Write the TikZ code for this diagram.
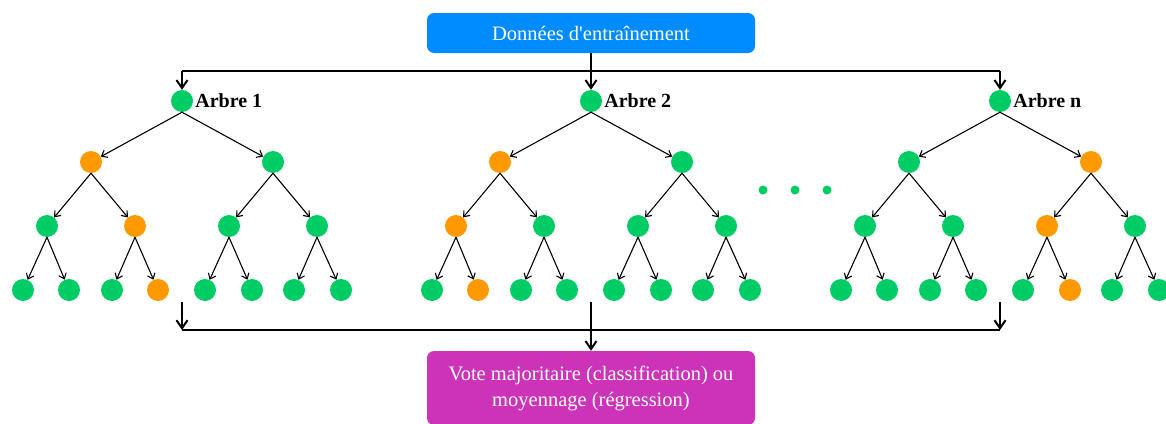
\documentclass[tikz,border=0pt]{standalone}
\usepackage{fontspec}
\setmainfont{Liberation Serif}[Ligatures=TeXOff]
\usetikzlibrary{arrows.meta}
\definecolor{cgr}{HTML}{00CC66}
\definecolor{cor}{HTML}{FF9900}
\definecolor{cblue}{HTML}{008CFF}
\definecolor{cmag}{HTML}{CC33B8}
\tikzset{
  dot/.style={circle, inner sep=0pt, minimum size=22pt, draw=none},
  smalldot/.style={circle, inner sep=0pt, minimum size=9pt, draw=none, fill=cgr},
  edge/.style={line width=1.1pt, -{Straight Barb[length=5pt,width=8pt]}},
  bus/.style={line width=2pt},
  busarrow/.style={line width=2pt, -{Straight Barb[length=8pt,width=11pt]}},
  lbl/.style={font=\fontsize{20}{24}\selectfont\bfseries, inner sep=2pt, anchor=west},
  box/.style={rounded corners=7pt, draw=none, text=white, align=center,
    font=\fontsize{20.5}{26}\selectfont, minimum width=328pt},
}
\newcommand{\mytree}[9]{%
  \node[dot,fill=cgr] (#1-0-1) at (#2,101) {};
  \node[dot,fill=#3] (#1-1-1) at ({#2-91},162) {};
  \node[dot,fill=#4] (#1-1-2) at ({#2+91},162) {};
  \node[dot,fill=#5] (#1-2-1) at ({#2-135},226) {};
  \node[dot,fill=#6] (#1-2-2) at ({#2-47},226) {};
  \node[dot,fill=#7] (#1-2-3) at ({#2+47},226) {};
  \node[dot,fill=#8] (#1-2-4) at ({#2+135},226) {};
  \draw[edge] (#1-0-1.south) -- (#1-1-1);
  \draw[edge] (#1-0-1.south) -- (#1-1-2);
  \draw[edge] (#1-1-1.south) -- (#1-2-1);
  \draw[edge] (#1-1-1.south) -- (#1-2-2);
  \draw[edge] (#1-1-2.south) -- (#1-2-3);
  \draw[edge] (#1-1-2.south) -- (#1-2-4);
  \foreach \i/\dx in {1/-159,2/-113,3/-70,4/-24,5/23,6/70,7/112,8/159}{%
    \ifnum\i=#9\relax\def\lc{cor}\else\def\lc{cgr}\fi
    \node[dot,fill=\lc] (#1-3-\i) at ({#2+(\dx)},290) {};
    \pgfmathtruncatemacro\p{(\i+1)/2}
    \draw[edge] (#1-2-\p.south) -- (#1-3-\i);
  }%
}
\begin{document}
\begin{tikzpicture}[x=1pt,y=-1pt]
\useasboundingbox (0,0) rectangle (1166,423);
% boxes
\node[box, fill=cblue, minimum height=40pt] (top) at (591,33) {Données d'entraînement};
\node[box, fill=cmag, minimum height=74pt] (bot) at (591,388) {Vote majoritaire (classification) ou\\moyennage (régression)};
% trees
\mytree{a}{182}{cor}{cgr}{cgr}{cor}{cgr}{cgr}{4}
\mytree{b}{591}{cor}{cgr}{cor}{cgr}{cgr}{cgr}{2}
\mytree{c}{1000}{cgr}{cor}{cgr}{cgr}{cor}{cgr}{6}
\node[lbl] (la) at (a-0-1.east) {Arbre 1};
\node[lbl] (lb) at (b-0-1.east) {Arbre 2};
\node[lbl] (lc) at (c-0-1.east) {Arbre n};
% ellipsis dots
\node[smalldot] (d1) at (763,190) {};
\node[smalldot] (d2) at (795,190) {};
\node[smalldot] (d3) at (827,190) {};
% top bus
\coordinate (tl) at (182,71);
\coordinate (tr) at (1000,71);
\draw[bus] (tl) -- (tr);
\draw[busarrow] (top.south) -- (b-0-1.north);
\draw[busarrow] (tl) -- (a-0-1.north);
\draw[busarrow] (tr) -- (c-0-1.north);
% bottom bus
\coordinate (bl) at (182,302);
\coordinate (bla) at (182,330);
\coordinate (br) at (1000,302);
\coordinate (bra) at (1000,330);
\coordinate (bm) at (591,302);
\draw[bus] (bla) -- (bra);
\draw[busarrow] (bl) -- (bla);
\draw[busarrow] (br) -- (bra);
\draw[busarrow] (bm) -- (bot.north);
\end{tikzpicture}
\end{document}
